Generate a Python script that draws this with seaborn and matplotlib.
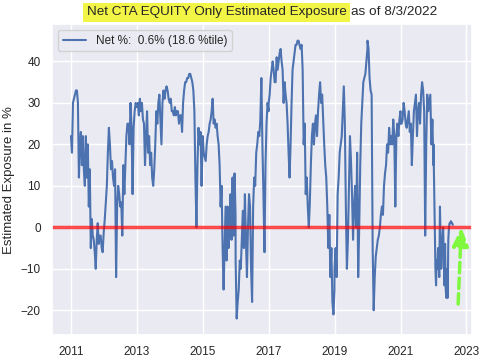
import pandas as pd
import numpy as np
import seaborn as sns
import matplotlib.pyplot as plt
import matplotlib.dates as mdates

# estimated net exposure (%), one list per calendar year
vals_2011 = [22, 18, 30, 31, 32, 33, 33, 30, 12, 20, 23, 15, 22, 14, 10, 22, 12,
             20, 5, 14, -5, 2, -2, -3, -6, -10, -3, 1, -4, -2, -2, -5, -6, -1]
vals_2012 = [-1, 2, 6, 10, 18, 24, 20, 14, 16, 12, 10, 14, -12, 5, 10, 8, 5,
             6, -2, 15, 8, 15, 22, 25, 25, 20, 30, 24, 8, 24, 28, 30, 29]
vals_2013 = [29, 30, 27, 31, 28, 30, 26, 25, 15, 22, 28, 18, 22, 15, 18, 12, 10,
             14, 20, 28, 25, 30, 32, 26, 20, 30, 33, 31, 33, 34, 33, 31, 30]
vals_2014 = [30, 31, 28, 28, 27, 29, 27, 28, 28, 25, 27, 27, 23, 30, 33, 35, 35,
             36, 36, 37, 37, 36, 35, 33, 28, 12, 0, 15, 24, 20, 23, 10, 20]
vals_2015 = [22, 18, 17, 16, 20, 22, 23, 25, 26, 28, 31, 25, 26, 24, 25, 22, 20,
             15, 5, 10, -5, -15, -5, 5, -8, 5, -5, 3, 8, -3, 12, -2, 13, 3]
vals_2016 = [-8, -22, -18, -15, -8, -10, -3, 4, -5, 8, -3, -12, 0, 8, 5, -10, -18,
             5, 12, 10, 18, 20, 23, 22, 26, 36, 20, 8, -6, 15, 25, 30, 28]
vals_2017 = [30, 32, 36, 38, 40, 38, 35, 35, 41, 38, 40, 42, 43, 40, 38, 30, 35,
             32, 30, 25, 18, 12, 20, 30, 38, 40, 42, 44, 44, 45, 45, 44, 43, 44]
vals_2018 = [44, 38, 20, 25, 8, 12, 5, 0, 6, 15, 22, 25, 20, 25, 27, 22, 28,
             32, 35, 30, 32, 26, 20, 15, 12, 5, -5, 3, -12, -5, -18, -21, -15]
vals_2019 = [-10, -5, -12, 8, 12, 18, 20, 22, 28, 34, 25, 5, -10, -3, 10, 22, 16,
             8, -3, 5, 10, 0, 18, -12, 0, 15, 25, 30, 35, 36, 37, 40, 43]
vals_2020 = [45, 43, 36, 33, 32, -5, -20, -12, -7, -5, -3, -2, 0, 3, 5, 3, 10,
             13, 15, 20, 18, 24, 20, 22, 20, 26, 22, 5, 22, 25, 22, 26, 28]
vals_2021 = [25, 25, 26, 30, 28, 25, 24, 26, 28, 23, 25, 15, 22, 28, 30, 32, 22,
             28, 30, 25, 32, 35, 33, 28, -2, 20, 32, 28, 30, 32, 20, 26, 15]
vals_2022 = [20, 10, 0, -10, -14, -8, -10, -5, -8, -12, 5, -2, -10, -5, -3, 0,
             -8, -14, -4, -15, -17, -10, -17, -3, 0, 1, 1, 1.5, 1, 1, 0.6]

yearly = {2011: vals_2011, 2012: vals_2012, 2013: vals_2013, 2014: vals_2014,
          2015: vals_2015, 2016: vals_2016, 2017: vals_2017, 2018: vals_2018,
          2019: vals_2019, 2020: vals_2020, 2021: vals_2021, 2022: vals_2022}
tick_years = [2011, 2013, 2015, 2017, 2019, 2021, 2023]

frames = []
for yr, vals in yearly.items():
    start = '2011-01-03' if yr == 2011 else f'{yr}-01-01'
    end = '2022-08-03' if yr == 2022 else f'{yr}-12-31'
    frames.append(pd.DataFrame({'date': pd.date_range(start, end, periods=len(vals)),
                                'net': vals}))
df = pd.concat(frames, ignore_index=True)

sns.set_theme(style='darkgrid')
plt.rcParams['font.family'] = ['Liberation Sans', 'DejaVu Sans']

fig, ax = plt.subplots(figsize=(4.85, 3.6), dpi=100)
fig.subplots_adjust(left=0.107, right=0.973, top=0.933, bottom=0.069)

sns.lineplot(data=df, x='date', y='net', ax=ax, color='#4c72b0', lw=1.5,
             label='Net %:  0.6% (18.6 %tile)')
ax.axhline(0, color='red', alpha=0.7, lw=2.5)

# green dashed arrow at the end
ax.annotate('', xy=(mdates.date2num(pd.Timestamp('2022-11-05')), 0.0),
            xytext=(mdates.date2num(pd.Timestamp('2022-10-01')), -18.5),
            arrowprops=dict(arrowstyle='-|>,head_width=0.35,head_length=0.8',
                            color='#80f840', lw=2.5, linestyle=(0, (3, 1.5)),
                            mutation_scale=14, shrinkA=0, shrinkB=0))

ax.set_ylim(-26, 49)
ax.set_xlabel('')
ax.set_ylabel('Estimated Exposure in %', fontsize=9.5)
ax.tick_params(labelsize=8.5, pad=2)
ax.set_xticks([mdates.date2num(pd.Timestamp(f'{y}-01-01')) for y in tick_years])
ax.xaxis.set_major_formatter(mdates.DateFormatter('%Y'))
ax.legend(loc='upper left', fontsize=8.5)

ax.text(0.702, 1.038, 'Net CTA EQUITY Only Estimated Exposure', transform=ax.transAxes,
        ha='right', va='center', fontsize=9.7, color='#262626',
        bbox=dict(facecolor='#f2f545', edgecolor='none', pad=2.5))
ax.text(0.712, 1.038, 'as of 8/3/2022', transform=ax.transAxes,
        ha='left', va='center', fontsize=9.7, color='#262626')

plt.savefig('out.png', dpi=100)
